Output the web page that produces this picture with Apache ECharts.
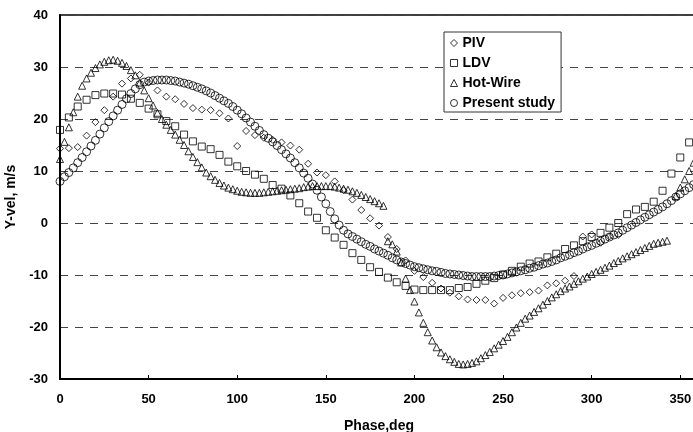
<!DOCTYPE html>
<html>
<head>
<meta charset="utf-8">
<script src="https://cdn.jsdelivr.net/npm/echarts@6/dist/echarts.min.js"></script>
<style>
    html, body {margin: 0; padding: 0; background: #fff;}
    #chart {width: 693px; height: 432px;}
</style>
</head>
<body>
<div id="chart"></div>
<script>
// 数据：相位(deg) 与 Y 方向速度(m/s)
var seriesNames = ['PIV', 'LDV', 'Hot-Wire', 'Present study'];

// PIV, every 5 deg from 0
var pivStart = 0, pivStep = 5;
var pivVel = [14.3, 14.4, 14.6, 16.8, 19.4, 21.7, 24.3, 26.8, 27.8, 28.5,
    27.0, 25.5, 24.3, 23.8, 22.9, 22.1, 21.8, 21.7, 21.1, 20.1,
    14.8, 17.7, 16.9, 16.4, 16.0, 15.5, 14.9, 14.1, 11.4, 9.7,
    9.2, 8.0, 6.3, 4.5, 2.5, 0.9, -0.5, -2.7, -5.0, -7.2,
    -9.2, -10.4, -11.5, -12.6, -13.4, -14.1, -14.7, -14.8, -14.8, -15.5,
    -14.4, -13.9, -13.5, -13.3, -13.0, -12.0, -11.6, -11.1, -10.2, -2.6,
    -2.2, -3.8, -2.6, -2.3];

// LDV, every 5 deg from 0
var ldvStart = 0, ldvStep = 5;
var ldvVel = [17.9, 20.3, 22.4, 23.7, 24.6, 24.9, 24.9, 24.7, 23.9, 23.1,
    22.0, 20.9, 19.6, 18.6, 17.0, 15.7, 14.7, 14.2, 13.1, 11.8,
    10.9, 10.0, 9.3, 8.5, 7.3, 6.6, 5.3, 3.8, 2.2, 1.0,
    -1.4, -2.8, -4.2, -5.8, -7.1, -8.5, -9.4, -10.5, -11.4, -12.1,
    -12.8, -12.9, -12.9, -12.9, -12.9, -12.5, -12.3, -11.7, -11.1, -10.6,
    -9.9, -9.2, -8.4, -7.8, -7.4, -6.6, -5.9, -5.0, -4.3, -3.5,
    -2.7, -1.9, -0.9, 0.0, 1.7, 2.6, 3.1, 4.1, 6.2, 9.5,
    12.6, 15.5];

// Hot-Wire, every 2.5 deg, three pieces
var hwStep = 2.5;
var hw1Start = 0;
var hw1Vel = [12.3, 15.6, 18.4, 21.3, 24.3, 26.4, 27.8, 28.9, 29.8, 30.5,
    31.0, 31.3, 31.4, 31.2, 30.8, 30.2, 29.4, 28.4, 27.0, 25.5,
    24.0, 22.6, 21.2, 20.0, 18.9, 17.9, 17.0, 16.0, 15.0, 13.8,
    12.7, 11.7, 10.7, 9.7, 9.0, 8.3, 7.7, 7.2, 6.8, 6.5,
    6.2, 6.0, 5.9, 5.8, 5.8, 5.8, 5.9, 6.0, 6.1, 6.2,
    6.3, 6.4, 6.5, 6.6, 6.7, 6.9, 7.0, 7.1, 7.1, 7.1,
    7.1, 7.1, 7.0, 6.8, 6.6, 6.4, 6.1, 5.8, 5.4, 5.0,
    4.6, 4.2, 3.8, 3.3];
var hw2Start = 185;
var hw2Vel = [-3.5, -4.1, -5.5, -7.6, -10.7, -12.9, -15.1, -17.2, -19.2, -21.0,
    -22.6, -23.9, -24.9, -25.6, -26.2, -26.7, -27.1, -27.2, -27.1, -26.9,
    -26.6, -26.0, -25.4, -24.8, -24.1, -23.4, -22.7, -21.9, -21.0, -20.1,
    -19.2, -18.4, -17.8, -17.1, -16.4, -15.7, -15.0, -14.3, -13.7, -13.1,
    -12.6, -12.2, -11.7, -11.2, -10.7, -10.3, -9.8, -9.4, -9.0, -8.6,
    -8.2, -7.7, -7.3, -6.8, -6.4, -6.0, -5.6, -5.2, -4.8, -4.4,
    -4.0, -3.8, -3.6, -3.4];
var hw3Start = 347.5;
var hw3Vel = [5.2, 6.8, 8.4, 10.0, 11.6];

// Present study, every 2.5 deg from 0
var psStart = 0, psStep = 2.5;
var psVel = [8.0, 8.9, 9.7, 10.6, 11.6, 12.6, 13.7, 14.8, 15.9, 17.1,
    18.3, 19.5, 20.6, 21.7, 22.8, 23.9, 24.9, 25.8, 26.6, 27.1,
    27.3, 27.4, 27.5, 27.5, 27.5, 27.4, 27.3, 27.1, 26.9, 26.7,
    26.4, 26.1, 25.8, 25.4, 25.0, 24.5, 24.0, 23.5, 23.0, 22.4,
    21.7, 21.0, 20.2, 19.4, 18.6, 17.8, 17.0, 16.3, 15.6, 14.9,
    14.1, 13.3, 12.5, 11.6, 10.6, 9.6, 8.6, 7.5, 6.3, 5.0,
    3.7, 2.2, 0.8, -0.4, -1.4, -2.1, -2.6, -3.1, -3.6, -4.1,
    -4.5, -5.0, -5.4, -5.8, -6.2, -6.7, -7.1, -7.5, -7.8, -8.1,
    -8.4, -8.6, -8.8, -9.0, -9.2, -9.3, -9.5, -9.7, -9.8, -9.9,
    -10.0, -10.1, -10.2, -10.3, -10.3, -10.3, -10.3, -10.3, -10.2, -10.1,
    -10.0, -9.8, -9.6, -9.4, -9.2, -9.0, -8.7, -8.5, -8.2, -7.9,
    -7.7, -7.4, -7.1, -6.7, -6.4, -6.1, -5.7, -5.4, -5.0, -4.6,
    -4.3, -3.9, -3.5, -3.1, -2.7, -2.3, -1.9, -1.4, -0.9, -0.4,
    0.1, 0.6, 1.1, 1.6, 2.1, 2.6, 3.1, 3.7, 4.3, 5.0,
    5.6, 6.2, 6.8, 7.4];

var xTicks = [0, 50, 100, 150, 200, 250, 300, 350];
var yTicks = [-30, -20, -10, 0, 10, 20, 30, 40];

function toPoints(start, step, vals) {
    var pts = [];
    for (var i = 0; i < vals.length; i++) {
        pts.push([start + step * i, vals[i]]);
    }
    return pts;
}

var font = 'Liberation Sans, Arial, sans-serif';
var hollow = {color: 'rgba(255,255,255,0)', borderColor: '#000', borderWidth: 1};

var myChart = echarts.init(document.getElementById('chart'));
var option = {
    backgroundColor: '#fff',
    animation: false,
    grid: {
        left: 60, top: 15, width: 638, height: 364,
        show: true, borderColor: '#000', borderWidth: 1.5,
        containLabel: false, outerBoundsMode: 'none'
    },
    legend: {
        orient: 'vertical',
        left: 444, top: 32,
        backgroundColor: '#fff',
        borderColor: '#333', borderWidth: 1,
        padding: [4, 6, 2, 6],
        itemWidth: 7, itemHeight: 7, itemGap: 6,
        itemStyle: {color: '#fff', borderColor: '#000', borderWidth: 1},
        textStyle: {fontFamily: font, fontWeight: 'bold', fontSize: 14, color: '#000', lineHeight: 14},
        data: [
            {name: 'PIV', icon: 'diamond'},
            {name: 'LDV', icon: 'rect'},
            {name: 'Hot-Wire', icon: 'triangle'},
            {name: 'Present study', icon: 'circle'}
        ]
    },
    xAxis: {
        type: 'value', min: 0, max: 360, interval: 50,
        name: 'Phase,deg', nameLocation: 'middle', nameGap: 40,
        nameTextStyle: {fontFamily: font, fontWeight: 'bold', fontSize: 14, color: '#000'},
        axisLine: {show: true, onZero: false, lineStyle: {color: '#000', width: 2}},
        axisTick: {show: true, inside: true, length: 4, lineStyle: {color: '#000'}},
        axisLabel: {
            showMaxLabel: false, margin: 14,
            fontFamily: font, fontWeight: 'bold', fontSize: 13, color: '#000',
            formatter: function (v) { return xTicks.indexOf(v) >= 0 ? String(v) : ''; }
        },
        splitLine: {show: false}
    },
    yAxis: {
        type: 'value', min: -30, max: 40, interval: 10,
        name: 'Y-vel, m/s', nameLocation: 'middle', nameGap: 33,
        nameTextStyle: {fontFamily: font, fontWeight: 'bold', fontSize: 14, color: '#000'},
        axisLine: {show: true, onZero: false, lineStyle: {color: '#000', width: 2}},
        axisTick: {show: false},
        axisLabel: {
            margin: 12, fontFamily: font, fontWeight: 'bold', fontSize: 13, color: '#000',
            formatter: function (v) { return yTicks.indexOf(v) >= 0 ? String(v) : ''; }
        },
        splitLine: {show: true, lineStyle: {color: '#444', width: 1, type: [8, 7]}}
    },
    series: [
        {
            name: 'PIV', type: 'scatter', symbol: 'diamond', symbolSize: 7,
            itemStyle: hollow, data: toPoints(pivStart, pivStep, pivVel)
        },
        {
            name: 'LDV', type: 'scatter', symbol: 'rect', symbolSize: 7,
            itemStyle: hollow, data: toPoints(ldvStart, ldvStep, ldvVel)
        },
        {
            name: 'Hot-Wire', type: 'scatter', symbol: 'triangle', symbolSize: 7,
            itemStyle: hollow,
            data: toPoints(hw1Start, hwStep, hw1Vel)
                .concat(toPoints(hw2Start, hwStep, hw2Vel))
                .concat(toPoints(hw3Start, hwStep, hw3Vel))
        },
        {
            name: 'Present study', type: 'scatter', symbol: 'circle', symbolSize: 8,
            itemStyle: hollow, data: toPoints(psStart, psStep, psVel)
        }
    ]
};
myChart.setOption(option);
</script>
</body>
</html>
